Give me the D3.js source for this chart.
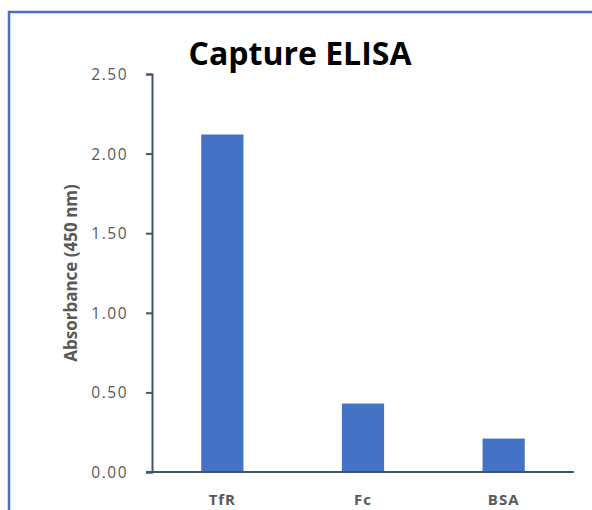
<!DOCTYPE html>
<html>
<head>
<meta charset="utf-8">
<script src="https://cdn.jsdelivr.net/npm/d3@7"></script>
<style>
  body { margin: 0; background: #ffffff; }
</style>
</head>
<body>
<div id="chart"></div>
<script>
const categories = ['TfR', 'Fc', 'BSA']
const absorbance = [2.12, 0.43, 0.21]
const yTicks = [0, 0.5, 1, 1.5, 2, 2.5]

const W = 592
const H = 510
const FONT = '"Open Sans", "Noto Sans", sans-serif'
const AXIS_COLOR = '#44546A'
const TEXT_COLOR = '#595959'
const BAR_COLOR = '#4472C4'

const plot = { left: 152, right: 574, top: 74, bottom: 472 }

const svg = d3.select('#chart').append('svg').attr('width', W).attr('height', H)

svg.append('rect').attr('width', W).attr('height', H).attr('fill', '#ffffff')

// frame (only left and top edges are in view)
svg
  .append('path')
  .attr('d', `M9,${H + 5} V12 H${W + 5}`)
  .attr('fill', 'none')
  .attr('stroke', BAR_COLOR)
  .attr('stroke-width', 2.5)

const x = d3
  .scaleBand()
  .domain(categories)
  .range([plot.left, plot.right])
  .paddingInner(0.7)
  .paddingOuter(0.35)

const y = d3.scaleLinear().domain([0, 2.5]).range([plot.bottom, plot.top])

// bars
svg
  .append('g')
  .selectAll('rect')
  .data(categories)
  .join('rect')
  .attr('x', (d) => x(d))
  .attr('y', (d, i) => y(absorbance[i]))
  .attr('width', x.bandwidth())
  .attr('height', (d, i) => y(0) - y(absorbance[i]))
  .attr('fill', BAR_COLOR)

// y axis
const yAxis = svg
  .append('g')
  .attr('transform', `translate(${plot.left},0)`)
  .call(
    d3
      .axisLeft(y)
      .tickValues(yTicks)
      .tickFormat(d3.format('.2f'))
      .tickSize(6)
      .tickSizeOuter(6)
      .tickPadding(18)
  )
yAxis.select('.domain').attr('stroke', AXIS_COLOR).attr('stroke-width', 2)
yAxis.selectAll('.tick line').attr('stroke', AXIS_COLOR).attr('stroke-width', 2)
yAxis
  .selectAll('.tick text')
  .attr('fill', TEXT_COLOR)
  .attr('font-family', FONT)
  .attr('font-size', 15.5)
  .attr('letter-spacing', 1.5)
  .attr('dy', '0.35em')

// x axis
const xAxis = svg
  .append('g')
  .attr('transform', `translate(0,${plot.bottom})`)
  .call(d3.axisBottom(x).tickSize(0).tickPadding(22))
xAxis
  .select('.domain')
  .attr('d', `M${plot.left - 6},0H${plot.right}`)
  .attr('stroke', AXIS_COLOR)
  .attr('stroke-width', 2)
xAxis
  .selectAll('.tick text')
  .attr('fill', TEXT_COLOR)
  .attr('font-family', FONT)
  .attr('font-size', 15)
  .attr('font-weight', 'bold')
  .attr('letter-spacing', 1)

// axis title
svg
  .append('text')
  .attr('transform', `translate(77,${(plot.top + plot.bottom) / 2}) rotate(-90)`)
  .attr('text-anchor', 'middle')
  .attr('fill', TEXT_COLOR)
  .attr('font-family', FONT)
  .attr('font-size', 17)
  .attr('font-weight', 'bold')
  .text('Absorbance (450 nm)')

// title
svg
  .append('text')
  .attr('x', 300)
  .attr('y', 65)
  .attr('text-anchor', 'middle')
  .attr('fill', '#000000')
  .attr('font-family', FONT)
  .attr('font-size', 32)
  .attr('font-weight', 'bold')
  .text('Capture ELISA')
</script>
</body>
</html>
